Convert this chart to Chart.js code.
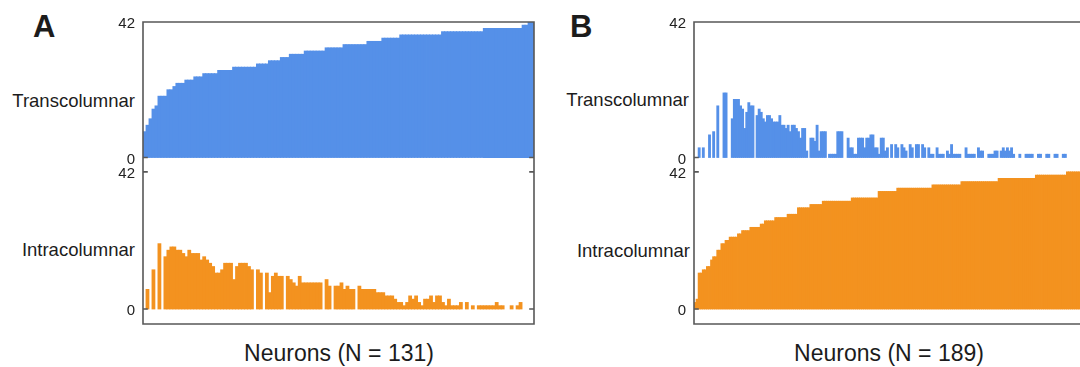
<!DOCTYPE html>
<html>
<head>
<meta charset="utf-8">
<script src="https://cdn.jsdelivr.net/npm/chart.js@4.4.1/dist/chart.umd.min.js"></script>
<style>
  html, body { margin: 0; padding: 0; background: #fff; overflow: hidden; }
  #fig { position: relative; width: 1080px; height: 367px; font-family: "Liberation Sans", Arial, sans-serif; color: #1c1c1c; }
  #fig canvas { position: absolute; }
  .lbl { position: absolute; white-space: nowrap; line-height: 1; }
  .panel { font-weight: bold; font-size: 31px; }
  .row { font-size: 18.5px; text-align: right; }
  .xt { font-size: 23px; text-align: center; width: 400px; }
</style>
</head>
<body>
<div id="fig">
  <div class="lbl panel" style="left:33px; top:11px">A</div>
  <div class="lbl panel" style="left:570px; top:11px">B</div>

  <div class="lbl row" style="right:945px; top:92px">Transcolumnar</div>
  <div class="lbl row" style="right:945px; top:241px">Intracolumnar</div>
  <div class="lbl row" style="right:391px; top:91px">Transcolumnar</div>
  <div class="lbl row" style="right:390px; top:242px">Intracolumnar</div>

  <div class="lbl xt" style="left:139px; top:342px">Neurons (N = 131)</div>
  <div class="lbl xt" style="left:689px; top:342px">Neurons (N = 189)</div>

  <canvas id="aTop" width="560" height="165" style="left:0; top:0"></canvas>
  <canvas id="aBot" width="560" height="165" style="left:0; top:165px"></canvas>
  <canvas id="bTop" width="560" height="165" style="left:551px; top:0"></canvas>
  <canvas id="bBot" width="560" height="165" style="left:551px; top:165px"></canvas>
</div>

<script>
// connections per neuron, 0..42
const yTickValues = [0, 42];

// panel A: sorted by transcolumnar count (N = 131)
const aTrans = [
  8,10,12,15,16,19,19,19,21,21,
  22,23,23,23,24,24,24,25,25,25,
  26,26,26,26,26,27,27,27,27,27,
  28,28,28,28,28,28,28,28,29,29,
  29,29,30,30,30,30,31,31,31,32,
  32,32,32,32,33,33,33,33,33,33,
  33,34,34,34,34,34,34,35,35,35,
  35,35,35,35,35,36,36,36,36,36,
  37,37,37,37,37,37,38,38,38,38,
  38,38,38,38,38,38,38,38,38,38,
  39,39,39,39,39,39,39,39,39,39,
  39,39,39,39,40,40,40,40,40,40,
  40,40,40,40,40,40,40,41,41,42,
  42
];
const aIntra = [
  0,6,0,12,0,20,0,16,18,19,
  19,18,18,17,16,18,17,17,17,15,
  16,15,14,13,11,11,12,14,14,14,
  9,13,14,14,14,13,12,0,12,11,
  0,11,5,10,11,10,10,0,10,9,
  8,7,10,8,8,8,8,8,8,8,
  0,9,7,0,7,7,8,6,7,6,
  6,0,7,6,6,6,6,6,5,5,
  5,4,4,4,3,2,2,1,2,4,
  3,4,2,1,3,3,4,2,4,4,
  2,1,3,1,1,1,2,0,2,0,
  1,0,1,1,1,1,1,1,2,1,
  1,0,0,1,0,1,2,0,0,0,
  0
];

// panel B: sorted by intracolumnar count (N = 189)
const bTrans = [
  0,0,3,0,3,0,0,7,0,8,
  0,16,0,0,20,20,0,0,12,18,
  18,18,16,15,9,14,17,16,16,0,
  13,15,14,12,11,13,13,12,11,11,
  11,13,10,10,9,10,8,10,10,9,
  8,6,9,9,2,0,6,6,5,10,
  2,8,8,8,0,1,1,1,1,8,
  8,8,0,0,6,3,3,1,1,6,
  6,6,3,6,6,7,7,3,3,1,
  6,6,2,3,0,4,0,4,3,0,
  4,3,2,0,4,3,0,4,4,0,
  4,3,0,3,1,1,0,3,1,1,
  1,0,2,1,4,1,1,1,1,0,
  0,3,1,1,1,1,0,3,2,2,
  0,0,1,1,1,2,2,0,2,3,
  2,3,2,3,1,0,0,1,0,0,
  1,1,1,1,0,0,1,1,0,0,
  1,1,0,0,1,1,0,0,1,1,
  0,0,0,0,0,0,0,0,0
];
const bIntra = [
  2,3,11,11,12,12,13,13,15,16,
  16,18,18,20,20,21,21,22,22,22,
  22,23,23,24,24,24,24,25,25,25,
  25,25,26,26,27,27,27,27,27,28,
  28,28,28,28,28,29,29,29,29,29,
  31,31,31,31,31,31,32,32,32,32,
  32,32,33,33,33,33,33,33,33,33,
  33,33,33,33,33,33,34,34,34,34,
  34,34,34,34,34,34,34,34,34,36,
  36,36,36,36,36,36,36,36,37,37,
  37,37,37,37,37,37,37,37,37,37,
  37,37,37,37,37,38,38,38,38,38,
  38,38,38,38,38,38,38,38,38,39,
  39,39,39,39,39,39,39,39,39,39,
  39,39,39,39,39,39,39,40,40,40,
  40,40,40,40,40,40,40,40,40,40,
  40,40,40,40,40,41,41,41,41,41,
  41,41,41,41,41,41,41,41,41,41,
  42,42,42,42,42,42,42,42,42
];

const BLUE = '#5590e8';
const ORANGE = '#f3921f';
const AXIS_W = 143;      // room left of the plot for the 0 / 42 labels
const FONT = '"Liberation Sans", Arial, sans-serif';

// box around each plot, with short inward ticks at 0 and 42 on both sides
const framePlugin = {
  id: 'frame',
  afterDraw(chart, args, opts) {
    const { ctx, chartArea: a } = chart;
    const y = chart.scales.y;
    ctx.save();
    ctx.strokeStyle = '#585858';
    ctx.lineWidth = 1.6;
    ctx.lineCap = 'square';
    ctx.beginPath();
    ctx.moveTo(a.left, a.top); ctx.lineTo(a.left, a.bottom);
    ctx.moveTo(a.right, a.top); ctx.lineTo(a.right, a.bottom);
    const edgeY = opts.edge === 'top' ? a.top : a.bottom;
    ctx.moveTo(a.left, edgeY); ctx.lineTo(a.right, edgeY);
    yTickValues.forEach(v => {
      const py = y.getPixelForValue(v);
      ctx.moveTo(a.left, py); ctx.lineTo(a.left + 4, py);
      ctx.moveTo(a.right, py); ctx.lineTo(a.right - 4, py);
    });
    ctx.stroke();
    ctx.restore();
  }
};

function makeChart(id, values, color, yMin, yMax, edge) {
  const labels = values.map((_, i) => i + 1);
  return new Chart(document.getElementById(id), {
    type: 'bar',
    data: {
      labels,
      datasets: [{
        data: values,
        backgroundColor: color,
        borderWidth: 0,
        categoryPercentage: 1,
        barPercentage: 1,
        // empty neurons leave a clean white gap
        inflateAmount: c => (c.raw > 0 ? 0.4 : 0)
      }]
    },
    options: {
      responsive: false,
      animation: false,
      events: [],
      layout: {
        padding: edge === 'top'
          ? { top: 22, right: 26, bottom: 0, left: 0 }
          : { top: 0, right: 26, bottom: 6, left: 0 }
      },
      plugins: {
        legend: { display: false },
        tooltip: { enabled: false },
        frame: { edge }
      },
      scales: {
        x: { display: false },
        y: {
          min: yMin,
          max: yMax,
          grid: { display: false, drawTicks: false },
          border: { display: false },
          afterBuildTicks: s => { s.ticks = yTickValues.map(v => ({ value: v })); },
          afterFit: s => { s.width = AXIS_W; s.paddingTop = 0; s.paddingBottom = 0; },
          ticks: { padding: 8, labelOffset: 2, color: '#222', font: { family: FONT, size: 15 } }
        }
      }
    },
    plugins: [framePlugin]
  });
}

makeChart('aTop', aTrans, BLUE, -2.33, 42, 'top');
makeChart('aBot', aIntra, ORANGE, -4.6, 44.1, 'bottom');
makeChart('bTop', bTrans, BLUE, -2.33, 42, 'top');
makeChart('bBot', bIntra, ORANGE, -4.6, 44.1, 'bottom');
</script>
</body>
</html>
